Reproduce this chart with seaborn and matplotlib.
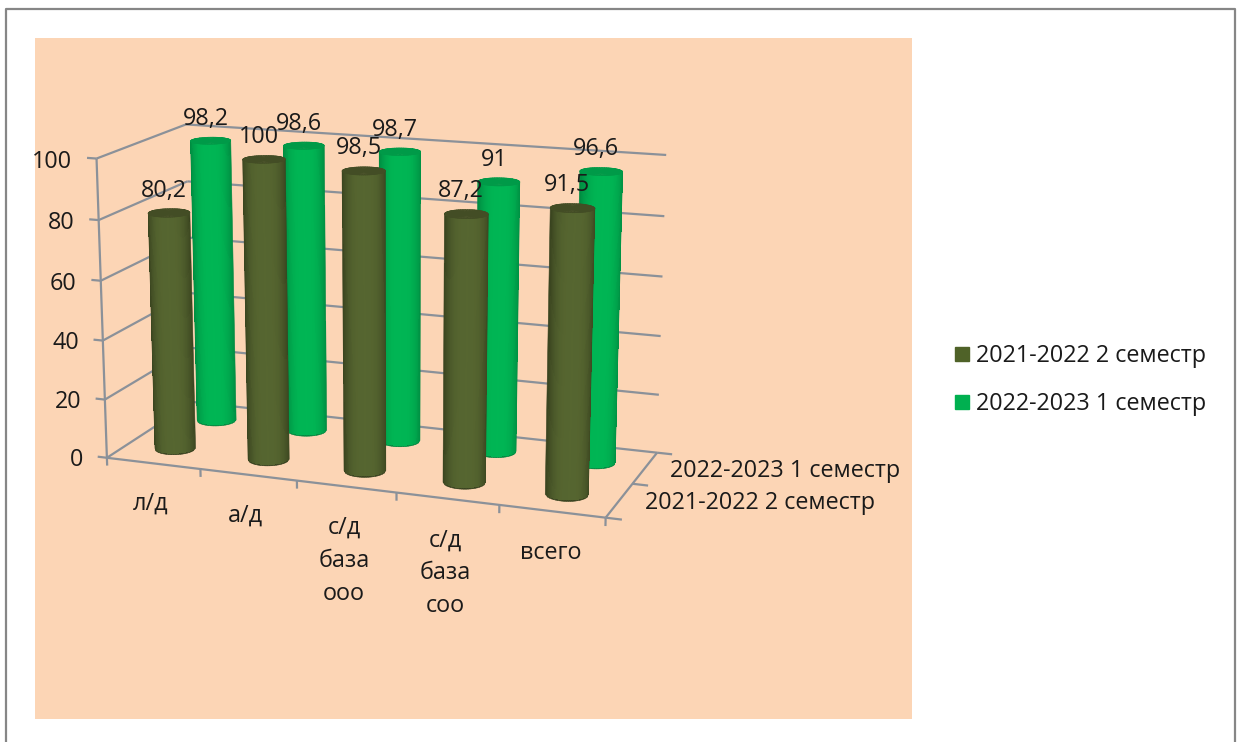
import numpy as np
import seaborn as sns
import matplotlib
matplotlib.use("Agg")
import matplotlib.pyplot as plt
from matplotlib.lines import Line2D
from matplotlib.patches import Rectangle
from mpl_toolkits.mplot3d import proj3d

categories = ["л/д", "а/д", "с/д\nбаза\nооо", "с/д\nбаза\nсоо", "всего"]
series_names = ["2021-2022 2 семестр", "2022-2023 1 семестр"]
values_2021 = [80.2, 100, 98.5, 87.2, 91.5]
values_2022 = [98.2, 98.6, 98.7, 91, 96.6]
z_ticks = [0, 20, 40, 60, 80, 100]

W, H = 1239, 742
PEACH = "#FCD5B5"
GRID = "#8B9199"
FRAME = "#868686"
OLIVE = ("#39431F", "#566630", "#434D25", "#4F6228")
GREEN = ("#008A40", "#00B654", "#009A48", "#00B050")
RADIUS = 0.2
FONT = 16.8

sns.set_style("white")
plt.rcParams["font.family"] = ["Open Sans", "DejaVu Sans"]
plt.rcParams["font.size"] = FONT
plt.rcParams["text.color"] = "#1a1a1a"


def cylinder(ax, xc, yc, height, colors, zorder):
    edge, centre, top, _ = colors
    ramp = np.array(sns.blend_palette([edge, centre], n_colors=40))
    view = np.radians(ax.azim)

    def side(s, z0):
        # half of the wall that faces the viewer, facets evenly wide on screen
        theta = view + np.arcsin(s)
        xs = xc + RADIUS * np.cos(theta)
        ys = yc + RADIUS * 1.01 * np.sin(theta)
        X = np.vstack([xs, xs])
        Y = np.vstack([ys, ys])
        Z = np.vstack([np.full_like(xs, z0), np.full_like(xs, height)])
        return X, Y, Z

    # smooth silhouette in the edge colour, shading stripes stay inside it
    X, Y, Z = side(np.linspace(-1, 1, 25), 0)
    ax.plot_surface(X, Y, Z, color=edge, rstride=1, cstride=1, shade=False,
                    linewidth=0.4, edgecolor=edge, zorder=zorder)
    s = np.linspace(-0.97, 0.97, 45)
    X, Y, Z = side(s, 0.5)
    cols = ramp[((1 - np.abs(s) ** 3) * 39).astype(int)]
    face = np.concatenate([cols[None, :, :], cols[None, :, :]])
    ax.plot_surface(X, Y, Z, facecolors=face, rstride=1, cstride=1, shade=False,
                    linewidth=0, antialiased=False, zorder=zorder + 0.2)
    # top cap
    t = np.linspace(0, 2 * np.pi, 73)
    xr = xc + RADIUS * np.cos(t)
    yr = yc + RADIUS * 1.01 * np.sin(t)
    Xc = np.vstack([np.full_like(xr, xc), xr])
    Yc = np.vstack([np.full_like(yr, yc), yr])
    Zc = np.full_like(Xc, height)
    ax.plot_surface(Xc, Yc, Zc, color=top, rstride=1, cstride=1, shade=False,
                    linewidth=0.4, edgecolor=top, zorder=zorder + 0.5)


def line(ax, a, b):
    ax.plot([a[0], b[0]], [a[1], b[1]], [a[2], b[2]], color=GRID, lw=1.6, zorder=1,
            solid_capstyle="butt")


def put_text(ax, x, y, z, s, **kw):
    # project to the 2d plane so the text keeps a real position on the figure
    tx, ty, _ = proj3d.proj_transform(x, y, z, ax.get_proj())
    ax.text2D(tx, ty, s, transform=ax.transData, **kw)


def main():
    fig = plt.figure(figsize=(W / 100, H / 100), dpi=100, facecolor="white")
    # peach plot area and grey outer frame
    fig.add_artist(Rectangle((35 / W, 1 - 719 / H), 877 / W, 681 / H, color=PEACH,
                             transform=fig.transFigure, zorder=-2, lw=0))
    fig.add_artist(Line2D([5.5 / W, 5.5 / W, 1235 / W, 1235 / W],
                          [0, 1 - 8.5 / H, 1 - 8.5 / H, 0], color=FRAME, lw=1.6,
                          transform=fig.transFigure, zorder=-1))

    ax = fig.add_subplot(projection="3d", computed_zorder=False)
    ax.set_facecolor("none")
    ax.set_axis_off()
    ax.set_xlim(0, 5)
    ax.set_ylim(0, 2)
    ax.set_zlim(0, 100)
    ax.view_init(elev=14.594, azim=-69.763, roll=0.109)
    ax.set_proj_type("persp", focal_length=0.41364)
    ax.set_box_aspect((1, 0.39556, 0.59218), zoom=0.62052)
    S = 1000
    ax.set_position([(368.97 - S / 2) / W, 1 - (322.09 + S / 2) / H, S / W, S / H])

    # walls, floor and ticks
    for z in z_ticks:
        line(ax, (-0.1, 0, z), (0, 0, z))
        line(ax, (0, 0, z), (0, 2, z))
        line(ax, (0, 2, z), (5, 2, z))
        put_text(ax, -0.26, 0, z - 1.7, str(z), ha="right", va="center", zorder=20)
    line(ax, (0, 0, 0), (0, 0, 100))
    line(ax, (0, 0, 0), (5, 0, 0))
    line(ax, (5, 0, 0), (5, 2, 0))
    for i in range(6):
        line(ax, (i, 0, 0), (i, 0, -2.7))
    for j in range(3):
        line(ax, (5, j, 0), (5.15, j, 0))

    for i, name in enumerate(categories):
        put_text(ax, i + 0.53, -0.14, -8, name, ha="center", va="top", linespacing=1.5, zorder=20)
    for j, name in enumerate(series_names):
        put_text(ax, 5.24, j + 0.5, 0, name, ha="left", va="center", zorder=20)

    # back row first, the front row hides it
    for i, v in enumerate(values_2022):
        cylinder(ax, i + 0.5, 1.5, v, GREEN, 5 + i)
    for i, v in enumerate(values_2021):
        cylinder(ax, i + 0.5, 0.5, v, OLIVE, 12 + i)

    for row, vals in enumerate([values_2021, values_2022]):
        for i, v in enumerate(vals):
            put_text(ax, i + 0.45, row + 0.5, v + 3.2, f"{v:g}".replace(".", ","),
                     ha="center", va="bottom", zorder=30)

    handles = [Line2D([], [], ls="", marker="s", ms=10, color=c[3]) for c in (OLIVE, GREEN)]
    fig.legend(handles, series_names, loc="center left", frameon=False,
               bbox_to_anchor=(939 / W, 1 - 380 / H), handletextpad=0.1, labelspacing=1.05,
               handlelength=1.0, borderpad=0, fontsize=FONT)

    plt.savefig("out.png", dpi=100)


if __name__ == "__main__":
    main()
